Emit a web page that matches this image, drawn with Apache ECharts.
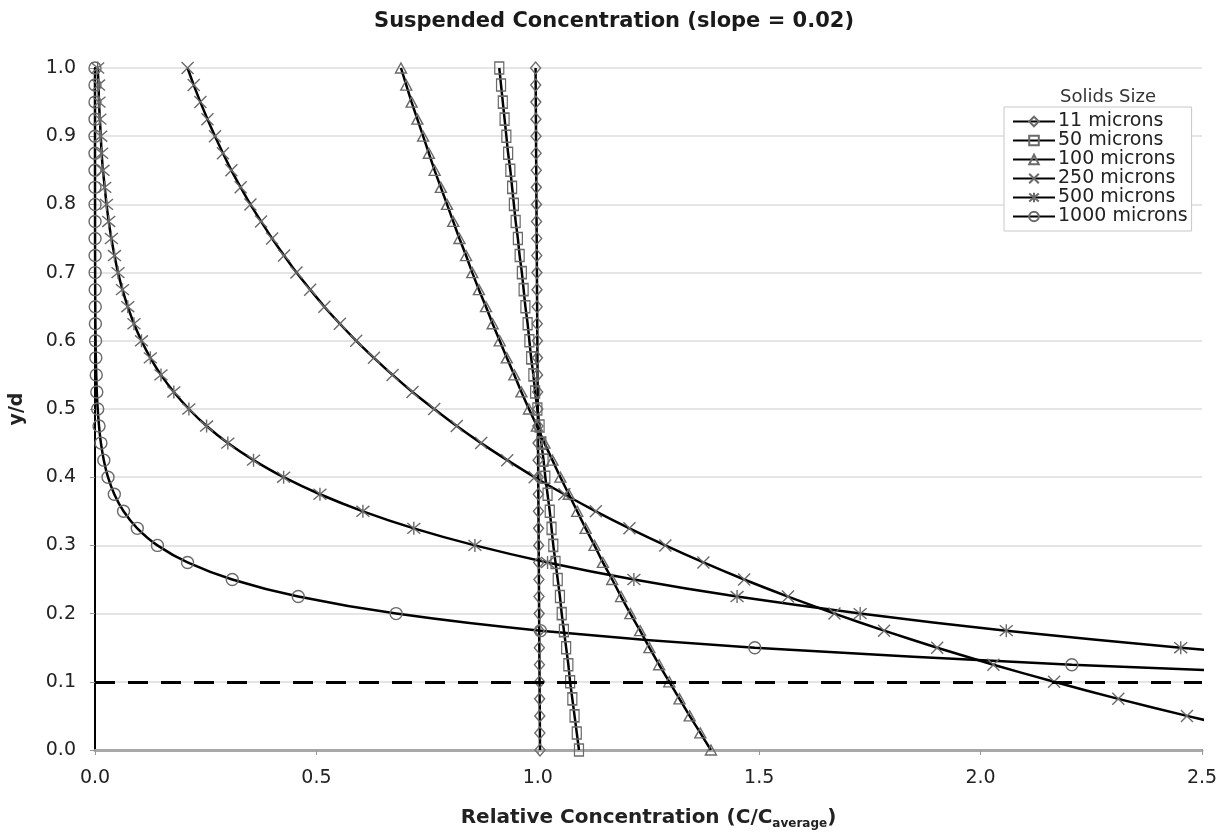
<!DOCTYPE html>
<html>
<head>
<meta charset="utf-8">
<title>Suspended Concentration</title>
<script src="https://cdn.jsdelivr.net/npm/echarts@6/dist/echarts.min.js"></script>
<style>
  html, body { margin: 0; padding: 0; background: #fff; }
  #chart { width: 1228px; height: 835px; }
</style>
</head>
<body>
<div id="chart"></div>
<script>
  // relative depth y/d, one point every 0.025
  const depth = [0, 0.025, 0.05, 0.075, 0.1, 0.125, 0.15, 0.175, 0.2, 0.225, 0.25, 0.275, 0.3, 0.325, 0.35,
    0.375, 0.4, 0.425, 0.45, 0.475, 0.5, 0.525, 0.55, 0.575, 0.6, 0.625, 0.65, 0.675, 0.7, 0.725, 0.75,
    0.775, 0.8, 0.825, 0.85, 0.875, 0.9, 0.925, 0.95, 0.975, 1.0]

  // C / C average for each solids size
  const c11 = [1.005, 1.0047, 1.0045, 1.0042, 1.004, 1.0037, 1.0035, 1.0032, 1.003, 1.0027, 1.0025, 1.0022,
    1.002, 1.0017, 1.0015, 1.0012, 1.001, 1.0007, 1.0005, 1.0002, 1.0, 0.9997, 0.9995, 0.9992, 0.999,
    0.9987, 0.9985, 0.9982, 0.998, 0.9977, 0.9975, 0.9972, 0.997, 0.9967, 0.9965, 0.9962, 0.996, 0.9957,
    0.9955, 0.9952, 0.995]
  const c50 = [1.093, 1.088, 1.083, 1.078, 1.073, 1.069, 1.064, 1.059, 1.054, 1.050, 1.045, 1.040, 1.035,
    1.031, 1.027, 1.022, 1.017, 1.013, 1.008, 1.004, 0.999, 0.994, 0.990, 0.985, 0.981, 0.977, 0.972,
    0.968, 0.964, 0.959, 0.955, 0.950, 0.946, 0.942, 0.938, 0.933, 0.929, 0.925, 0.921, 0.917, 0.913]
  const c100 = [1.391, 1.367, 1.343, 1.320, 1.297, 1.274, 1.252, 1.231, 1.209, 1.188, 1.168, 1.147, 1.128,
    1.108, 1.089, 1.070, 1.051, 1.033, 1.015, 0.998, 0.980, 0.963, 0.947, 0.930, 0.914, 0.898, 0.883,
    0.867, 0.852, 0.838, 0.823, 0.809, 0.795, 0.781, 0.767, 0.754, 0.741, 0.728, 0.715, 0.703, 0.691]
  const c250 = [2.809, 2.632, 2.466, 2.311, 2.166, 2.029, 1.902, 1.782, 1.670, 1.565, 1.466, 1.374, 1.288,
    1.207, 1.131, 1.060, 0.993, 0.931, 0.872, 0.817, 0.766, 0.717, 0.672, 0.630, 0.590, 0.553, 0.518,
    0.486, 0.455, 0.427, 0.400, 0.375, 0.351, 0.329, 0.308, 0.289, 0.271, 0.254, 0.238, 0.223, 0.209]
  const c500 = [7.006, 5.881, 4.937, 4.144, 3.479, 2.920, 2.452, 2.058, 1.728, 1.450, 1.217, 1.022, 0.858,
    0.720, 0.605, 0.508, 0.426, 0.358, 0.300, 0.252, 0.212, 0.178, 0.149, 0.125, 0.105, 0.088, 0.074,
    0.062, 0.052, 0.044, 0.037, 0.031, 0.026, 0.022, 0.018, 0.015, 0.013, 0.011, 0.009, 0.008, 0.006]
  const c1000 = [15.70, 10.60, 7.161, 4.836, 3.266, 2.206, 1.490, 1.006, 0.680, 0.459, 0.310, 0.209, 0.141,
    0.0955, 0.0645, 0.0436, 0.0294, 0.0199, 0.0134, 0.0091, 0.0061, 0.0041, 0.0028, 0.0019, 0.0013,
    0.0009, 0.0006, 0.0004, 0.0003, 0.0002, 0.0001, 0.0001, 0.0001, 0, 0, 0, 0, 0, 0, 0, 0]

  const sizeNames = ['11 microns', '50 microns', '100 microns', '250 microns', '500 microns', '1000 microns']
  const profiles = [c11, c50, c100, c250, c500, c1000]
  const dashedLevel = 0.095

  const FONT = '"DejaVu Sans", Verdana, sans-serif'
  const markerGray = '#6a6a6a'
  const symbols = [
    { symbol: 'diamond', size: [10, 12] },
    { symbol: 'rect', size: [9, 12] },
    { symbol: 'triangle', size: [11, 10] },
    { symbol: 'path://M0,0L10,10M10,0L0,10', size: 12 },
    { symbol: 'path://M0,0L10,10M10,0L0,10M5,-1L5,11', size: 13 },
    { symbol: 'circle', size: 12 }
  ]

  const series = sizeNames.map((name, i) => {
    const s = {
      name: name,
      type: 'line',
      data: profiles[i].map((c, k) => [c, depth[k]]),
      smooth: 0.25,
      symbol: symbols[i].symbol,
      symbolSize: symbols[i].size,
      showSymbol: true,
      clip: true,
      lineStyle: { color: '#000', width: 2.5 },
      itemStyle: { color: 'rgba(255,255,255,0)', borderColor: markerGray, borderWidth: 1.4 },
      emphasis: { disabled: true },
      animation: false
    }
    if (i === 0) {
      s.markLine = {
        silent: true,
        symbol: ['none', 'none'],
        label: { show: false },
        lineStyle: { color: '#000', width: 3, type: [20, 13] },
        data: [{ yAxis: dashedLevel }]
      }
    }
    return s
  })

  const chart = echarts.init(document.getElementById('chart'))
  chart.setOption({
    backgroundColor: '#fff',
    animation: false,
    textStyle: { fontFamily: FONT },
    title: [
      {
        text: 'Suspended Concentration (slope = 0.02)',
        left: 'center',
        top: 6,
        textStyle: { fontFamily: FONT, fontSize: 21, fontWeight: 'bold', color: '#1a1a1a' }
      },
      {
        text: 'Solids Size',
        left: 1103,
        top: 83,
        textAlign: 'center',
        textStyle: { fontFamily: FONT, fontSize: 18, fontWeight: 'normal', color: '#333' }
      }
    ],
    legend: {
      orient: 'vertical',
      left: 1004,
      top: 107,
      itemGap: 0,
      itemWidth: 42,
      itemHeight: 12,
      padding: [5, 4, 5, 8],
      backgroundColor: '#fff',
      borderColor: '#c8c8c8',
      borderWidth: 1,
      textStyle: { fontFamily: FONT, fontSize: 19, lineHeight: 17.5, color: '#222', padding: [0, 0, 0, -2] },
      data: sizeNames
    },
    grid: { left: 92, right: 26, top: 68, bottom: 84 },
    xAxis: [
      {
        type: 'value',
        min: 0,
        max: 2.5,
        interval: 0.5,
        name: 'Relative Concentration (C/C{sub|average})',
        nameLocation: 'middle',
        nameGap: 56,
        nameTextStyle: {
          fontFamily: FONT, fontSize: 20, fontWeight: 'bold', color: '#222',
          rich: { sub: { fontSize: 12, fontWeight: 'bold', padding: [12, 0, 0, 0] } }
        },
        axisLine: { lineStyle: { color: '#000', width: 2 } },
        axisTick: { show: true, length: 5, lineStyle: { color: '#999' } },
        axisLabel: { margin: 19, fontSize: 19, color: '#222', formatter: v => v.toFixed(1) },
        splitLine: { show: false }
      },
      {
        type: 'value',
        position: 'top',
        min: 0,
        max: 2.5,
        axisLine: { lineStyle: { color: '#a8a8a8', width: 3 } },
        axisTick: { show: false },
        axisLabel: { show: false },
        splitLine: { show: false }
      }
    ],
    yAxis: [
      {
        type: 'value',
        min: 0,
        max: 1,
        interval: 0.1,
        name: 'y/d',
        nameLocation: 'middle',
        nameGap: 68,
        nameTextStyle: { fontFamily: FONT, fontSize: 19, fontWeight: 'bold', color: '#222' },
        axisLine: { show: true, lineStyle: { color: '#000', width: 2 } },
        axisTick: { show: true, length: 5, lineStyle: { color: '#999' } },
        axisLabel: { margin: 19, fontSize: 19, color: '#222', formatter: v => v.toFixed(1) },
        splitLine: { show: true, lineStyle: { color: '#dcdcdc', width: 1.5 } }
      },
      {
        type: 'value',
        position: 'right',
        min: 0,
        max: 1,
        axisLine: { show: true, lineStyle: { color: '#000', width: 2 } },
        axisTick: { show: false },
        axisLabel: { show: false },
        splitLine: { show: false }
      }
    ],
    series: series
  })
</script>
</body>
</html>
